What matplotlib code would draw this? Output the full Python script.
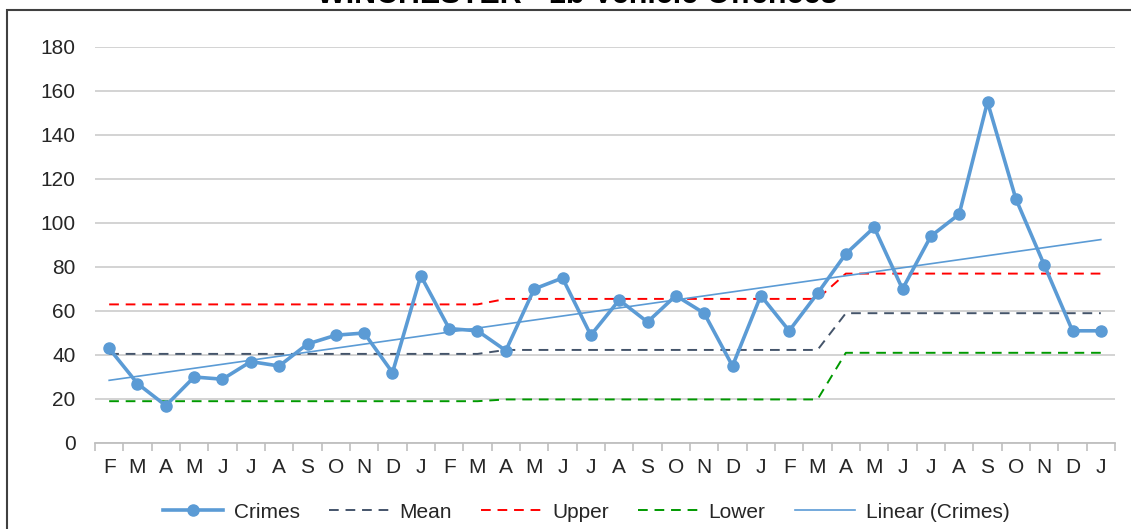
import matplotlib
matplotlib.use("Agg")
import matplotlib.pyplot as plt
from matplotlib.patches import Rectangle
import numpy as np

plt.rcParams['font.family'] = ['Liberation Sans', 'DejaVu Sans']

months = ['F', 'M', 'A', 'M', 'J', 'J', 'A', 'S', 'O', 'N', 'D', 'J',
          'F', 'M', 'A', 'M', 'J', 'J', 'A', 'S', 'O', 'N', 'D', 'J',
          'F', 'M', 'A', 'M', 'J', 'J', 'A', 'S', 'O', 'N', 'D', 'J']
crimes = [43, 27, 17, 30, 29, 37, 35, 45, 49, 50, 32, 76,
          52, 51, 42, 70, 75, 49, 65, 55, 67, 59, 35, 67,
          51, 68, 86, 98, 70, 94, 104, 155, 111, 81, 51, 51]
mean = [40.5] * 14 + [42.3] * 12 + [59] * 10
upper = [63] * 14 + [65.5] * 12 + [77] * 10
lower = [19] * 14 + [19.8] * 12 + [41] * 10

W, H = 1131, 529
fig = plt.figure(figsize=(W / 100, H / 100), dpi=100)
ax = fig.add_axes([95 / W, 1 - 443 / H, 1020 / W, 396 / H])

x = np.arange(1, len(crimes) + 1)

# trend line from a least-squares fit of the data
k, b = np.polyfit(x, crimes, 1)

dash = (0, (5, 3.5))
ax.plot(x, mean, color='#44546a', lw=1.4, ls=dash, label='Mean')
ax.plot(x, upper, color='#ff0000', lw=1.4, ls=dash, label='Upper')
ax.plot(x, lower, color='#009900', lw=1.4, ls=dash, label='Lower')
ax.plot(x, k * x + b, color='#5b9bd5', lw=1.2, label='Linear (Crimes)')
ax.plot(x, crimes, color='#5b9bd5', lw=2.6, marker='o', ms=8, label='Crimes')

ax.set_xlim(0.5, len(crimes) + 0.5)
ax.set_ylim(0, 180)
ax.set_yticks(range(0, 181, 20))
ax.grid(axis='y', color='#d0d0d0', lw=1.3)
ax.set_axisbelow(True)
for s in ['top', 'right', 'left']:
    ax.spines[s].set_visible(False)
ax.spines['bottom'].set_color('#bfbfbf')
ax.spines['bottom'].set_linewidth(1.3)

txt = '#262626'
ax.set_xticks(x)
ax.set_xticklabels(months)
ax.set_xticks(np.arange(0.5, len(crimes) + 1), minor=True)
ax.tick_params(axis='x', which='major', length=0, pad=11, labelsize=15, colors=txt)
ax.tick_params(axis='x', which='minor', length=6, width=1.2, color='#bfbfbf')
ax.tick_params(axis='y', length=0, pad=14, labelsize=15, colors=txt)

handles, labels = ax.get_legend_handles_labels()
order = [4, 0, 1, 2, 3]
fig.legend([handles[i] for i in order], [labels[i] for i in order],
           loc='center', bbox_to_anchor=(586 / W, 1 - 512 / H), ncol=5,
           frameon=False, fontsize=15, handlelength=2.9, columnspacing=1.4,
           handletextpad=0.5, labelcolor=txt)

fig.text(577 / W, 1 - 3 / H, 'WINCHESTER - 1b Vehicle Offences', ha='center',
         va='baseline', fontsize=22, fontweight='bold', color='#000000')

fig.add_artist(Rectangle((7 / W, -0.1), 1.2, 1.1 - 10 / H, transform=fig.transFigure,
                         fill=False, ec='#404040', lw=1.5))

fig.savefig('out.png', dpi=100)
